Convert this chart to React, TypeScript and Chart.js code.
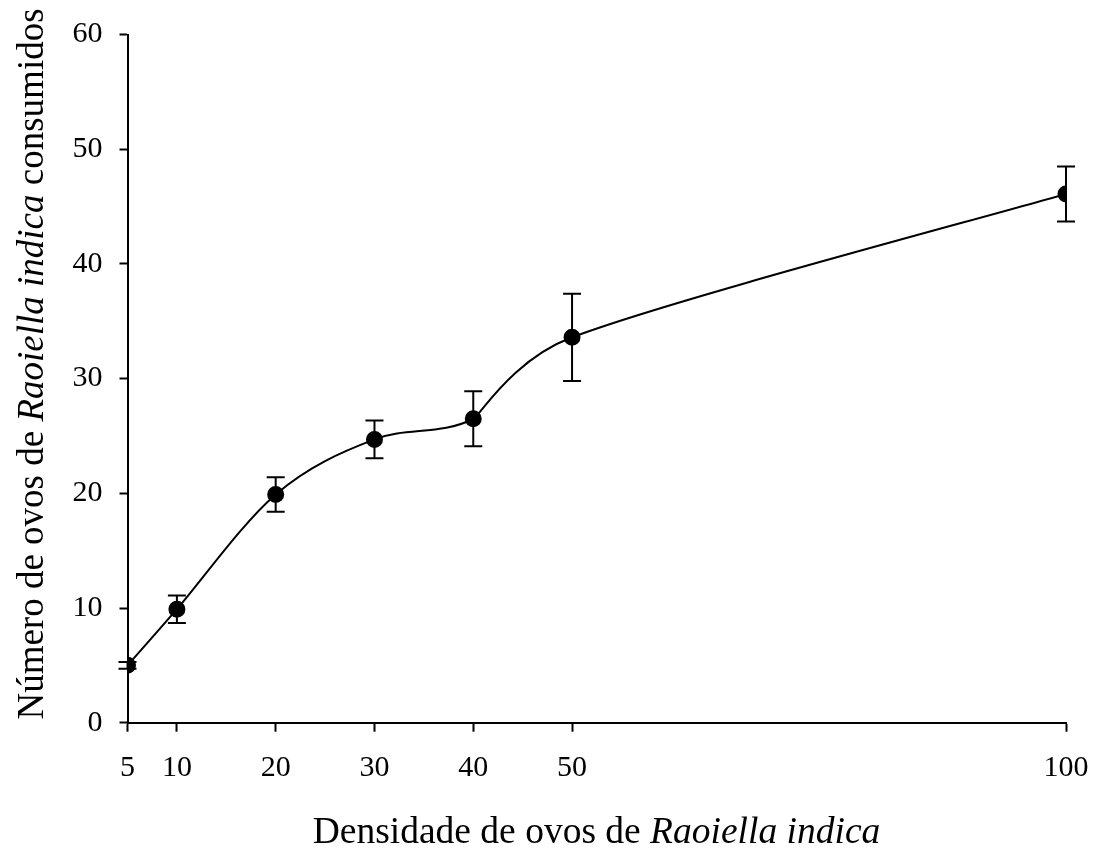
import React, { useEffect, useRef } from "react";
import { Chart, registerables } from "chart.js";

Chart.register(...registerables);

const densities = [5, 10, 20, 30, 40, 50, 100];
const consumed = [5.0, 9.9, 19.9, 24.7, 26.5, 33.6, 46.1];
const errors = [0.3, 1.2, 1.5, 1.65, 2.4, 3.8, 2.4];
const xTicks = [5, 10, 20, 30, 40, 50, 100];
const yTicks = [0, 10, 20, 30, 40, 50, 60];

const FONT = '"Liberation Serif", "Times New Roman", serif';

type Part = { t: string; i?: boolean };
const xTitle: Part[] = [{ t: "Densidade de ovos de " }, { t: "Raoiella indica", i: true }];
const yTitle: Part[] = [
  { t: "Número de ovos de " },
  { t: "Raoiella indica", i: true },
  { t: " consumidos" },
];

function drawParts(ctx: CanvasRenderingContext2D, parts: Part[], size: number) {
  let total = 0;
  const widths = parts.map((p) => {
    ctx.font = `${p.i ? "italic " : ""}${size}px ${FONT}`;
    const w = ctx.measureText(p.t).width;
    total += w;
    return w;
  });
  let x = -total / 2;
  parts.forEach((p, k) => {
    ctx.font = `${p.i ? "italic " : ""}${size}px ${FONT}`;
    ctx.fillText(p.t, x, 0);
    x += widths[k];
  });
}

// Excel-style smoothing: Catmull-Rom control points with clamping
const smoothPlugin = {
  id: "excelSmooth",
  beforeDatasetsDraw(chart: any) {
    const meta = chart.getDatasetMeta(0);
    const pts = meta.data as any[];
    const n = pts.length;
    const dist = (a: any, b: any) => Math.hypot(b.x - a.x, b.y - a.y);
    for (let i = 0; i < n - 1; i++) {
      const p0 = pts[Math.max(0, i - 1)];
      const p1 = pts[i];
      const p2 = pts[i + 1];
      const p3 = pts[Math.min(n - 1, i + 2)];
      const d12 = dist(p1, p2);
      const d02 = dist(p0, p2);
      const d13 = dist(p1, p3);
      let f = 1 / 6;
      let g = 1 / 6;
      const c1 = d02 / 6 >= d12 / 2;
      const c2 = d13 / 6 >= d12 / 2;
      if (c1 && c2) {
        f = d12 / 2 / d02;
        g = d12 / 2 / d13;
      } else if (c1) {
        f = d12 / 2 / d02;
        g = ((d12 / 2 / d02) * d13) / d02;
      } else if (c2) {
        g = d12 / 2 / d13;
        f = ((d12 / 2 / d13) * d02) / d13;
      }
      p1.cp2x = p1.x + (p2.x - p0.x) * f;
      p1.cp2y = p1.y + (p2.y - p0.y) * f;
      p2.cp1x = p2.x - (p3.x - p1.x) * g;
      p2.cp1y = p2.y - (p3.y - p1.y) * g;
    }
    pts[0].cp1x = pts[0].x;
    pts[0].cp1y = pts[0].y;
    pts[n - 1].cp2x = pts[n - 1].x;
    pts[n - 1].cp2y = pts[n - 1].y;
    if (meta.dataset) {
      meta.dataset._pointsUpdated = true;
      delete meta.dataset._path;
    }
  },
};

const extrasPlugin = {
  id: "extras",
  afterDatasetsDraw(chart: any) {
    const ctx = chart.ctx as CanvasRenderingContext2D;
    const xs = chart.scales.x;
    const ys = chart.scales.y;
    ctx.save();
    ctx.strokeStyle = "#000";
    ctx.lineWidth = 2;
    densities.forEach((d, i) => {
      const px = xs.getPixelForValue(d);
      const top = ys.getPixelForValue(consumed[i] + errors[i]);
      const bot = ys.getPixelForValue(consumed[i] - errors[i]);
      ctx.beginPath();
      ctx.moveTo(px, top);
      ctx.lineTo(px, bot);
      ctx.moveTo(px - 9, top);
      ctx.lineTo(px + 9, top);
      ctx.moveTo(px - 9, bot);
      ctx.lineTo(px + 9, bot);
      ctx.stroke();
    });
    ctx.restore();
  },
  afterDraw(chart: any) {
    const ctx = chart.ctx as CanvasRenderingContext2D;
    ctx.save();
    ctx.fillStyle = "#000";
    ctx.textBaseline = "alphabetic";
    ctx.textAlign = "left";
    ctx.translate(596.5, 843);
    drawParts(ctx, xTitle, 37.5);
    ctx.restore();
    ctx.save();
    ctx.fillStyle = "#000";
    ctx.textBaseline = "alphabetic";
    ctx.textAlign = "left";
    ctx.translate(43, 364);
    ctx.rotate(-Math.PI / 2);
    drawParts(ctx, yTitle, 37);
    ctx.restore();
  },
};

export default function App() {
  const ref = useRef<HTMLCanvasElement>(null);
  useEffect(() => {
    document.body.style.margin = "0";
    const chart = new Chart(ref.current!, {
      type: "line",
      data: {
        datasets: [
          {
            data: densities.map((d, i) => ({ x: d, y: consumed[i] })),
            borderColor: "#000",
            backgroundColor: "#000",
            borderWidth: 2,
            pointRadius: 7.5,
            pointBackgroundColor: "#000",
            pointBorderColor: "#000",
            tension: 0.4,
            fill: false,
          },
        ],
      },
      options: {
        responsive: false,
        animation: false,
        layout: { padding: { left: 0, right: 31, top: 34.5, bottom: 0 } },
        plugins: { legend: { display: false }, tooltip: { enabled: false } },
        scales: {
          x: {
            type: "linear",
            min: 5,
            max: 100,
            afterBuildTicks: (axis: any) => {
              axis.ticks = xTicks.map((v) => ({ value: v }));
            },
            afterFit: (s: any) => {
              s.height = 128.3;
              s.paddingLeft = 0;
              s.paddingRight = 0;
            },
            grid: {
              drawOnChartArea: false,
              drawTicks: true,
              tickLength: 9,
              tickColor: "#000",
              tickWidth: 2,
            },
            border: { color: "#000", width: 2 },
            ticks: {
              color: "#000",
              font: { family: FONT, size: 30 },
              padding: 18,
              maxRotation: 0,
              autoSkip: false,
            },
          },
          y: {
            type: "linear",
            min: 0,
            max: 60,
            afterBuildTicks: (axis: any) => {
              axis.ticks = yTicks.map((v) => ({ value: v }));
            },
            afterFit: (s: any) => {
              s.width = 127.5;
              s.paddingTop = 0;
              s.paddingBottom = 0;
            },
            grid: {
              drawOnChartArea: false,
              drawTicks: true,
              tickLength: 8,
              tickColor: "#000",
              tickWidth: 2,
            },
            border: { color: "#000", width: 2 },
            ticks: {
              color: "#000",
              font: { family: FONT, size: 30 },
              padding: 17,
            },
          },
        },
      },
      plugins: [smoothPlugin, extrasPlugin],
    } as any);
    return () => chart.destroy();
  }, []);
  return (
    <div style={{ width: 1097, height: 851 }}>
      <canvas ref={ref} width={1097} height={851} style={{ display: "block" }} />
    </div>
  );
}
